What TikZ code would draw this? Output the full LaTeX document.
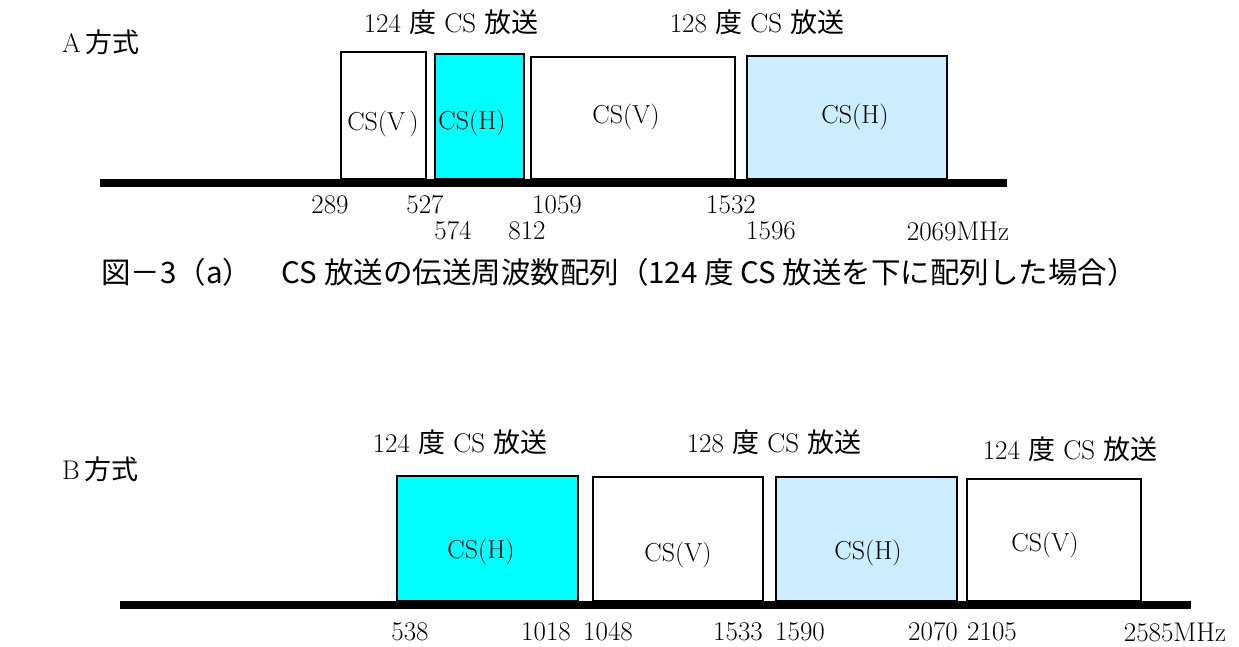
\documentclass[tikz,border=0pt]{standalone}
\usepackage{fontspec}
\newfontfamily\jp{Noto Sans CJK JP}
\usetikzlibrary{positioning}
\definecolor{bandcyan}{RGB}{0,255,255}
\definecolor{bandsky}{RGB}{204,236,255}

\begin{document}
\begin{tikzpicture}[x=1pt, y=-1pt,
    band/.style={draw, line width=1.5pt},
    axis/.style={line width=8pt},
    txt/.style={font=\fontsize{27}{32}\selectfont, inner sep=0pt},
    cs/.style={font=\fontsize{26}{30}\selectfont, inner sep=0pt},
    freq/.style={font=\fontsize{27}{32}\selectfont, inner sep=0pt}]
    \useasboundingbox (0,0) rectangle (1239,647);

    % A方式
    \node[txt, anchor=west] (modeA) at (62,42) {A\,{\jp 方式}};
    \node[txt] (satA1) at (451,22) {124 {\jp 度} CS {\jp 放送}};
    \node[txt] (satA2) at (757,22) {128 {\jp 度} CS {\jp 放送}};
    \draw[band] (341,52) rectangle (426,179);
    \draw[band, fill=bandcyan] (435,54) rectangle (524,179);
    \draw[band] (531,57) rectangle (735,179);
    \draw[band, fill=bandsky] (747,56) rectangle (947,179);
    \node[cs] (aV1) at (383,124) {CS(V\,)};
    \node[cs] (aH1) at (472,123) {CS(H)};
    \node[cs] (aV2) at (626,117) {CS(V)};
    \node[cs] (aH2) at (855,117) {CS(H)};
    \coordinate (axA0) at (100,183);
    \coordinate (axA1) at (1007,183);
    \draw[axis] (axA0) -- (axA1);
    \node[freq] (fA289) at (330,205) {289};
    \node[freq] (fA527) at (425,205) {527};
    \node[freq] (fA1059) at (557,205) {1059};
    \node[freq] (fA1532) at (731,205) {1532};
    \node[freq] (fA574) at (453,231) {574};
    \node[freq] (fA812) at (527,231) {812};
    \node[freq] (fA1596) at (771,231) {1596};
    \node[freq] (fA2069) at (958,231) {2069MHz};

    % caption
    \node[font={\jp\fontsize{29.5}{34}\selectfont}, inner sep=0pt] (capA) at (619,272)
        {図－3（a）　CS 放送の伝送周波数配列（124 度 CS 放送を下に配列した場合）};

    % B方式
    \node[txt, anchor=west] (modeB) at (62,469) {B\,{\jp 方式}};
    \node[txt] (satB1) at (460,442) {124 {\jp 度} CS {\jp 放送}};
    \node[txt] (satB2) at (774,442) {128 {\jp 度} CS {\jp 放送}};
    \node[txt] (satB3) at (1070,449) {124 {\jp 度} CS {\jp 放送}};
    \draw[band, fill=bandcyan] (397,476) rectangle (578,601);
    \draw[band] (593,477) rectangle (763,601);
    \draw[band, fill=bandsky] (776,477) rectangle (957,601);
    \draw[band] (967,479) rectangle (1141,601);
    \node[cs] (bH1) at (481,552) {CS(H)};
    \node[cs] (bV1) at (678,555) {CS(V)};
    \node[cs] (bH2) at (868,553) {CS(H)};
    \node[cs] (bV2) at (1045,545) {CS(V)};
    \coordinate (axB0) at (120,605);
    \coordinate (axB1) at (1191,605);
    \draw[axis] (axB0) -- (axB1);
    \node[freq] (fB538) at (410,632) {538};
    \node[freq] (fB1018) at (546,632) {1018};
    \node[freq] (fB1048) at (608,632) {1048};
    \node[freq] (fB1533) at (738,632) {1533};
    \node[freq] (fB1590) at (800,632) {1590};
    \node[freq] (fB2070) at (933,632) {2070};
    \node[freq] (fB2105) at (992,632) {2105};
    \node[freq] (fB2585) at (1175,632) {2585MHz};
\end{tikzpicture}
\end{document}
